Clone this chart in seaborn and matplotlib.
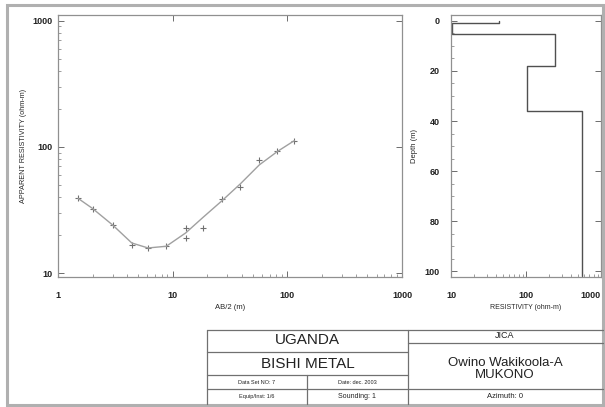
import numpy as np
import pandas as pd
import matplotlib
matplotlib.use("Agg")
import matplotlib.pyplot as plt
from matplotlib.patches import Rectangle
from matplotlib.lines import Line2D
from matplotlib.ticker import LogLocator, NullFormatter, FixedLocator
import seaborn as sns

# ---- data ----
ab2 = [1.5, 2.0, 3.0, 4.4, 6.1, 8.8, 13.0, 13.0, 18.3, 27.0, 39.0, 57.0, 82.0, 115.0]
rho_app = [39.4, 32.4, 23.9, 16.8, 15.9, 16.3, 22.8, 19.1, 22.8, 38.5, 48.2, 78.3, 92.5, 111.7]
fit_ab2 = [1.5, 2.0, 3.0, 4.4, 6.1, 8.8, 13.0, 18.3, 27.0, 39.0, 57.0, 82.0, 115.0]
fit_rho = [39.0, 32.5, 24.0, 17.3, 15.8, 16.3, 20.8, 27.5, 37.5, 51.0, 72.0, 92.0, 112.0]

layer_rho = [44.0, 10.4, 241.0, 104.0, 561.0]
layer_top = [0.0, 0.8, 5.2, 17.9, 36.0]
layer_bottom = [0.8, 5.2, 17.9, 36.0, 102.0]

ab2_ticks = [1, 10, 100, 1000]
rho_ticks = [10, 100, 1000]
depth_ticks = [0, 20, 40, 60, 80, 100]

title_left = ["UGANDA", "BISHI METAL"]
info_cells = ["Data Set NO: 7", "Date: dec. 2003", "Equip/Inst: 1/6", "Sounding: 1"]
title_right = ["JICA", "Owino Wakikoola-A\nMUKONO", "Azimuth: 0"]

# ---- figure ----
sns.set_theme(style="white")
plt.rcParams['font.family'] = ['Liberation Sans', 'DejaVu Sans']
W, H = 605, 407
fig = plt.figure(figsize=(W / 100, H / 100), dpi=100)

def fx(px):
    return px / W

def fy(py):
    return 1 - py / H

# outer frame
fig.add_artist(Rectangle((fx(7), fy(405)), fx(603) - fx(7), fy(5) - fy(405),
                         transform=fig.transFigure, fill=False, ec="#b0b0b0", lw=2.2))

def style_ticks(ax, top, ypad):
    ax.tick_params(axis="both", which="major", labelsize=6.5, length=4, width=0.6,
                   direction="in", bottom=True, left=True, top=top, right=True,
                   color="#555555")
    ax.tick_params(axis="x", which="major", pad=10)
    ax.tick_params(axis="y", which="major", pad=ypad)
    ax.tick_params(axis="both", which="minor", length=2, width=0.5, direction="in",
                   bottom=True, left=True, top=False, right=False, color="#777777")
    for lab in ax.get_xticklabels() + ax.get_yticklabels():
        lab.set_fontweight("bold")
        lab.set_color("#222222")
    for s in ax.spines.values():
        s.set_color("#909090")
        s.set_linewidth(0.9)

# ---- left: apparent resistivity curve ----
ax1 = fig.add_axes([fx(58), fy(277), fx(402) - fx(58), fy(15) - fy(277)])
df_obs = pd.DataFrame({"ab2": ab2, "rho": rho_app})
df_fit = pd.DataFrame({"ab2": fit_ab2, "rho": fit_rho})
sns.lineplot(data=df_fit, x="ab2", y="rho", ax=ax1, color="#a0a0a0", lw=1.0, sort=False)
sns.scatterplot(data=df_obs, x="ab2", y="rho", ax=ax1, marker="+", s=18,
                color="#707070", linewidth=0.8)
ax1.set_xscale("log")
ax1.set_yscale("log")
ax1.set_xlim(1, 1000)
ax1.set_ylim(9.3, 1110)
ax1.xaxis.set_major_locator(FixedLocator(ab2_ticks))
ax1.set_xticklabels([str(t) for t in ab2_ticks])
ax1.yaxis.set_major_locator(FixedLocator([10, 100, 1000]))
ax1.set_yticklabels(["10", "100", "1000"])
ax1.xaxis.set_minor_locator(LogLocator(base=10, subs=np.arange(2, 10)))
ax1.yaxis.set_minor_locator(LogLocator(base=10, subs=np.arange(2, 10)))
ax1.xaxis.set_minor_formatter(NullFormatter())
ax1.yaxis.set_minor_formatter(NullFormatter())
ax1.set_xlabel("AB/2 (m)", fontsize=5.5, labelpad=3)
ax1.set_ylabel("APPARENT RESISTIVITY (ohm-m)", fontsize=5.2, labelpad=4)
style_ticks(ax1, top=True, ypad=4)

# ---- right: layered model ----
ax2 = fig.add_axes([fx(451), fy(277), fx(601) - fx(451), fy(15) - fy(277)])
step_x, step_y = [], []
for r, t, b in zip(layer_rho, layer_top, layer_bottom):
    step_x += [r, r]
    step_y += [t, b]
df_step = pd.DataFrame({"rho": step_x, "depth": step_y})
sns.lineplot(data=df_step, x="rho", y="depth", ax=ax2, sort=False,
             color="#505050", lw=1.0, estimator=None)
ax2.set_xscale("log")
ax2.set_xlim(10, 1000)
ax2.set_ylim(102.2, -2.3)
ax2.xaxis.set_major_locator(FixedLocator(rho_ticks))
ax2.set_xticklabels([str(t) for t in rho_ticks])
ax2.xaxis.set_minor_locator(LogLocator(base=10, subs=np.arange(2, 10)))
ax2.xaxis.set_minor_formatter(NullFormatter())
ax2.yaxis.set_major_locator(FixedLocator(depth_ticks))
ax2.set_yticklabels([str(t) for t in depth_ticks])
ax2.yaxis.set_minor_locator(FixedLocator(np.arange(0, 101, 5)))
ax2.set_xlabel("RESISTIVITY (ohm-m)", fontsize=5, labelpad=3)
ax2.set_ylabel("Depth (m)", fontsize=5.5, labelpad=5)
style_ticks(ax2, top=False, ypad=8)
xl = ax2.get_xticklabels()
xl[-1].set_horizontalalignment("right")

# ---- title block ----
lc = "#707070"
def hline(x0, x1, y, lw=0.9):
    fig.add_artist(Line2D([fx(x0), fx(x1)], [fy(y), fy(y)], transform=fig.transFigure,
                          color=lc, lw=lw))

def vline(x, y0, y1, lw=0.9):
    fig.add_artist(Line2D([fx(x), fx(x)], [fy(y0), fy(y1)], transform=fig.transFigure,
                          color=lc, lw=lw))

hline(207, 603, 329.5)
hline(207, 408, 351.5)
hline(207, 408, 375)
hline(207, 408, 389)
hline(408, 603, 343)
hline(408, 603, 389)
vline(207, 329.5, 404)
vline(408, 329.5, 404)
vline(307, 375, 404)

def txt(x, y, s, size, weight="normal"):
    fig.text(fx(x), fy(y), s, ha="center", va="center", fontsize=size,
             fontweight=weight, color="#222222", linespacing=1.0)

txt(307.5, 340.5, title_left[0], 11)
txt(307.5, 363.5, title_left[1], 11)
txt(257, 382, info_cells[0], 4)
txt(357, 382, info_cells[1], 4)
txt(257, 396.5, info_cells[2], 4)
txt(357, 396.5, info_cells[3], 5)
txt(505, 336, title_right[0], 6.5)
txt(505, 368.5, title_right[1], 9.5)
txt(505, 396.5, title_right[2], 5.5)

fig.savefig("out.png", dpi=100, facecolor="white")
